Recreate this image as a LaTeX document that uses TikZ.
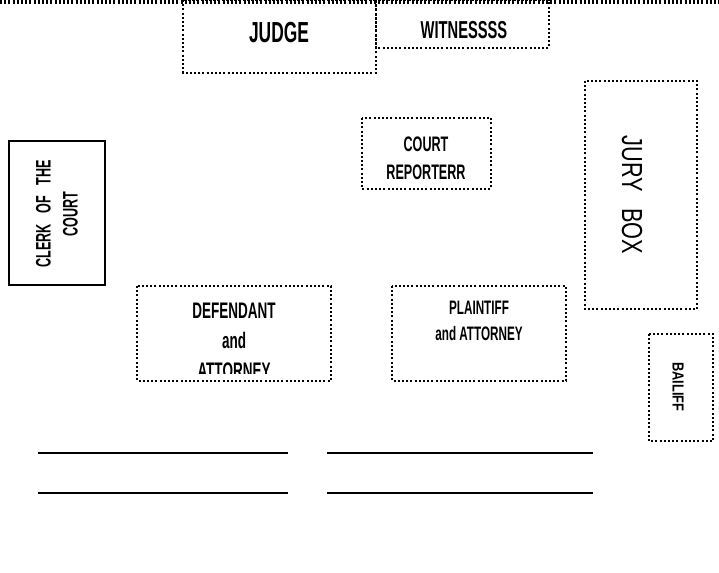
\documentclass[tikz,border=0pt]{standalone}
\usepackage{fontspec}
\setmainfont{Liberation Sans}[FakeStretch=0.6]
\newfontfamily\juryfont{Liberation Sans}[FakeStretch=0.75]
\newfontfamily\bfont{Liberation Sans}[FakeStretch=0.8]
\begin{document}
\begin{tikzpicture}[x=1pt,y=-1pt,
  dotbox/.style={draw, line width=2pt, dash pattern=on 2pt off 2.2pt},
  lbl/.style={font=\bfseries, align=center, inner sep=0pt},
  blank/.style={line width=2.2pt}]
\useasboundingbox (0,0) rectangle (719,572);
\fill[white] (0,0) rectangle (719,572);
% top wall
\coordinate (wl) at (0,2);
\coordinate (wr) at (719,2);
\draw[dotbox, line width=3.5pt] (wl) -- (wr);
% boxes
\draw[dotbox] (183,0) rectangle (376,73);
\draw[dotbox] (376,0) rectangle (549,48);
\draw[dotbox] (585,81) rectangle (697,309);
\draw[dotbox] (362,118) rectangle (491,189);
\draw[line width=1.4pt] (9,141) rectangle (105,285);
\draw[dotbox] (137,286) rectangle (331,381);
\draw[dotbox] (392,286) rectangle (566,381);
\draw[dotbox] (649,334) rectangle (713,441);
% texts
\node[lbl, font=\bfseries\fontsize{29}{30}\selectfont] (judge) at (279,33) {JUDGE};
\node[lbl, font=\bfseries\fontsize{24.5}{26}\selectfont] (wit) at (464,30) {WITNESSSS};
\node[lbl, font=\bfseries\fontsize{21}{28}\selectfont] (rep) at (426,158) {COURT\\REPORTERR};
\node[lbl, rotate=90, font=\bfseries\fontsize{21}{27}\selectfont] (clerk) at (57,214) {CLERK\,\, OF\,\, THE\\COURT};
\node[inner sep=0pt, rotate=-90, font=\juryfont\fontsize{29}{30}\selectfont] (jury) at (632,195) {JURY\,\, BOX};
\node[lbl, rotate=-90, font=\bfont\bfseries\fontsize{16}{17}\selectfont] (bail) at (678,387) {BAILIFF};
\begin{scope}
\clip (137,286) rectangle (331,373);
\node[lbl, font=\bfseries\fontsize{22.5}{30}\selectfont, anchor=north] (def) at (234,303) {DEFENDANT\\and\\ATTORNEY};
\end{scope}
\node[lbl, font=\bfseries\fontsize{19.5}{26}\selectfont] (pla) at (479,321) {PLAINTIFF\\and ATTORNEY};
% signature lines
\coordinate (a1) at (38,453); \coordinate (a2) at (288,453);
\coordinate (b1) at (327,453); \coordinate (b2) at (593,453);
\coordinate (c1) at (38,493); \coordinate (c2) at (288,493);
\coordinate (d1) at (327,493); \coordinate (d2) at (593,493);
\draw[blank] (a1) -- (a2);
\draw[blank] (b1) -- (b2);
\draw[blank] (c1) -- (c2);
\draw[blank] (d1) -- (d2);
\end{tikzpicture}
\end{document}
